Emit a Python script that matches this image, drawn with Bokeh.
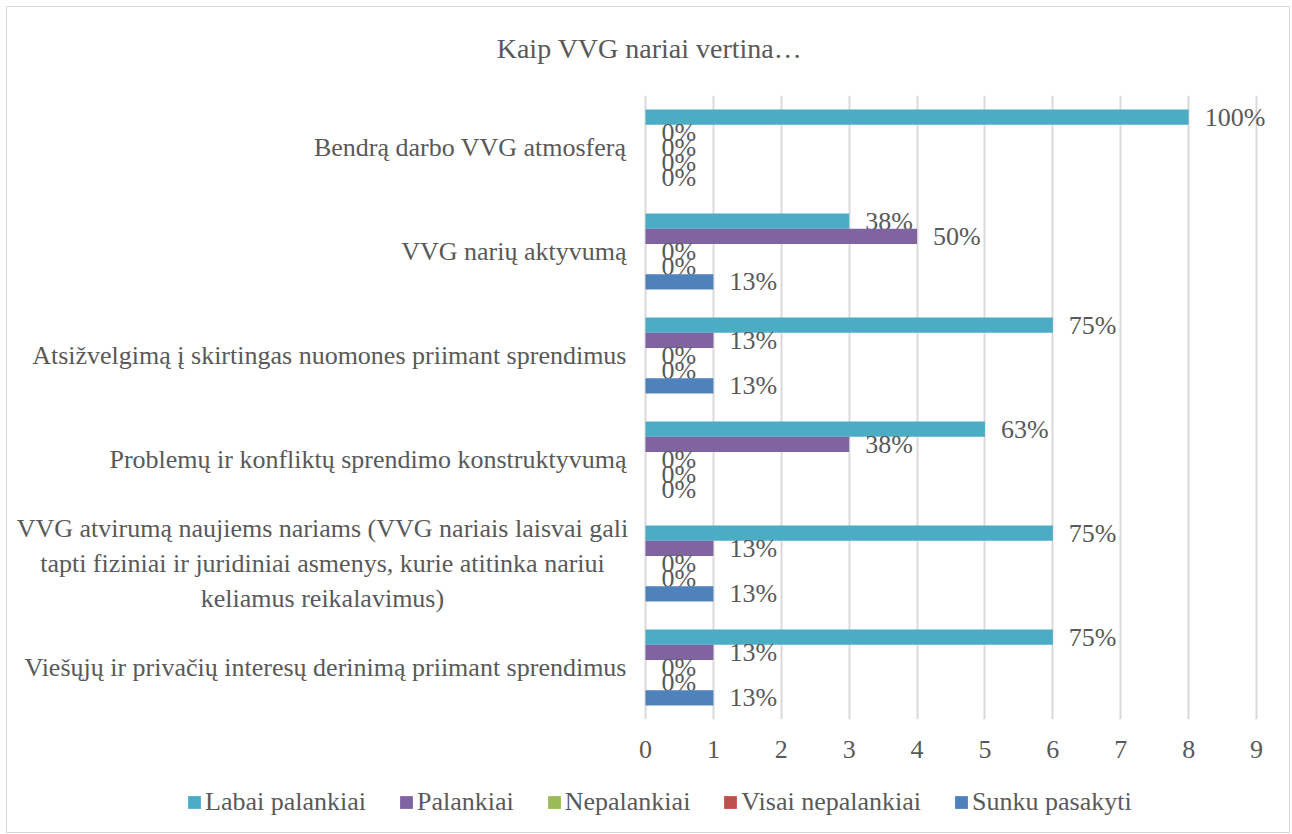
from bokeh.plotting import figure
from bokeh.layouts import column
from bokeh.models import FactorRange, Range1d, FixedTicker, Legend, LegendItem, ColumnDataSource, Label
from bokeh.transform import dodge
from bokeh.core.properties import value
from bokeh.embed import file_html
from bokeh.resources import INLINE

# ---- data ----
categories = [
    "Bendrą darbo VVG atmosferą",
    "VVG narių aktyvumą",
    "Atsižvelgimą į skirtingas nuomones priimant sprendimus",
    "Problemų ir konfliktų sprendimo konstruktyvumą",
    "VVG atvirumą naujiems nariams (VVG nariais laisvai gali\ntapti fiziniai ir juridiniai asmenys, kurie atitinka nariui\nkeliamus reikalavimus)",
    "Viešųjų ir privačių interesų derinimą priimant sprendimus",
]
series_names = ["Labai palankiai", "Palankiai", "Nepalankiai", "Visai nepalankiai", "Sunku pasakyti"]
labai_palankiai = [8, 3, 6, 5, 6, 6]
palankiai = [0, 4, 1, 3, 1, 1]
nepalankiai = [0, 0, 0, 0, 0, 0]
visai_nepalankiai = [0, 0, 0, 0, 0, 0]
sunku_pasakyti = [0, 1, 1, 0, 1, 1]
respondents = 8
x_ticks = [0, 1, 2, 3, 4, 5, 6, 7, 8, 9]
title_text = "Kaip VVG nariai vertina…"

series_values = [labai_palankiai, palankiai, nepalankiai, visai_nepalankiai, sunku_pasakyti]
colors = ["#4BACC6", "#8064A2", "#9BBB59", "#C0504D", "#4F81BD"]

FONT = "Liberation Serif"
TXT = "#595959"
FS = "26px"
W = 1282
TITLE_H = 70

# ---- title row ----
tf = figure(width=W, height=TITLE_H, x_range=Range1d(0, W - 16), y_range=Range1d(0, TITLE_H),
            output_backend="svg", toolbar_location=None,
            min_border_left=0, min_border_right=16, min_border_top=0, min_border_bottom=0)
tf.axis.visible = False
tf.grid.visible = False
tf.outline_line_color = None
tf.add_layout(Label(x=642, y=29, text=title_text, text_align="center", text_baseline="middle",
                    text_font=FONT, text_font_size="28px", text_color=TXT))

# ---- main chart: frame spans the whole width, value 0 sits part-way across ----
p = figure(
    width=W, height=772 - TITLE_H,
    y_range=FactorRange(factors=list(reversed(categories)), range_padding=0),
    x_range=Range1d(-9.397, 9.25),
    output_backend="svg", toolbar_location=None,
    min_border_left=0, min_border_right=16, min_border_top=18, min_border_bottom=60,
)
p.outline_line_color = None
p.yaxis.visible = False

# category labels (single-line right-aligned, the wrapped one centred as a block)
single = [c for c in categories if "\n" not in c]
multi = [c for c in categories if "\n" in c]
src1 = ColumnDataSource(dict(cat=single, zero=[0] * len(single)))
p.text(x="zero", y="cat", text="cat", source=src1, x_offset=-19,
       text_align="right", text_baseline="middle",
       text_font=value(FONT), text_font_size=FS, text_color=TXT)
src2 = ColumnDataSource(dict(cat=multi, zero=[0] * len(multi)))
p.text(x="zero", y="cat", text="cat", source=src2, x_offset=-323,
       text_align="center", text_baseline="middle",
       text_font=value(FONT), text_font_size=FS, text_color=TXT)

bar_h = 0.146
renderers = []
for j, (name, vals, col) in enumerate(zip(series_names, series_values, colors)):
    labels = ["%d%%" % int(v * 100 / respondents + 0.5) for v in vals]
    src = ColumnDataSource(dict(cat=categories, val=vals, lab=labels))
    off = (2 - j) * bar_h
    p.hbar(y=dodge("cat", off, range=p.y_range), right="val", left=0, height=bar_h,
           source=src, fill_color=col, line_color=None)
    p.text(x="val", y=dodge("cat", off, range=p.y_range), text="lab", source=src,
           x_offset=16, text_align="left", text_baseline="middle",
           text_font=value(FONT), text_font_size=FS, text_color=TXT)

p.xaxis.ticker = FixedTicker(ticks=x_ticks)
p.xaxis.axis_line_color = None
p.xaxis.major_tick_line_color = None
p.xaxis.minor_tick_line_color = None
p.xaxis.major_label_standoff = 15
p.xaxis.major_label_text_font = FONT
p.xaxis.major_label_text_font_size = FS
p.xaxis.major_label_text_color = TXT

p.xgrid.ticker = FixedTicker(ticks=x_ticks)
p.xgrid.grid_line_color = "#d9d9d9"
p.xgrid.grid_line_width = 2
p.ygrid.grid_line_color = None

# ---- legend row ----
lg = figure(width=W, height=53, x_range=Range1d(0, 1), y_range=Range1d(0, 1),
            output_backend="svg", toolbar_location=None,
            min_border_left=0, min_border_right=16, min_border_top=0, min_border_bottom=0)
lg.axis.visible = False
lg.grid.visible = False
lg.outline_line_color = None
items = []
for name, col in zip(series_names, colors):
    # legend key only: a zero-length bar placed outside the visible range
    r = lg.hbar(y=[-5], right=[0], left=[0], height=0.1, fill_color=col, line_color=None)
    items.append(LegendItem(label=name, renderers=[r]))
legend = Legend(
    items=items, orientation="horizontal", location=(179, 15),
    glyph_width=16, glyph_height=16, label_standoff=3, spacing=32,
    label_text_font=FONT, label_text_font_size=FS, label_text_color=TXT,
    padding=0, margin=0, border_line_color=None, background_fill_alpha=0,
)
lg.add_layout(legend, "center")

layout = column(tf, p, lg, spacing=0)
layout.styles = {"border": "1px solid #d9d9d9", "margin-left": "6px", "margin-top": "6px"}

open("out.html", "w").write(file_html(layout, INLINE))
